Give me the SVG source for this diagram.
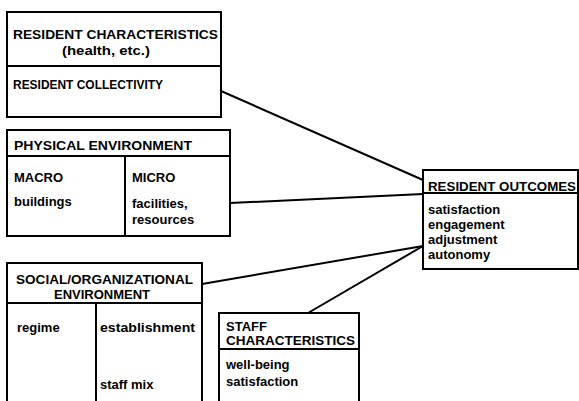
<svg xmlns="http://www.w3.org/2000/svg" width="579" height="401" viewBox="0 0 579 401">
<style>
.box{fill:none;stroke:#000;stroke-width:2}
.ln{fill:none;stroke:#000;stroke-width:2}
text{font-family:"Liberation Sans","DejaVu Sans",sans-serif;font-weight:bold;font-size:13px;fill:#000}
</style>
<rect width="579" height="401" fill="#fff"/>
<g id="connectors">
<line class="ln" x1="221" y1="91" x2="423" y2="180"/>
<line class="ln" x1="230" y1="203" x2="423" y2="194"/>
<line class="ln" x1="202" y1="284" x2="423" y2="246"/>
<line class="ln" x1="308" y1="313" x2="423" y2="246"/>
</g>
<g id="resident-characteristics">
<rect class="box" x="7" y="12" width="214" height="105"/>
<line class="ln" x1="7" y1="66" x2="221" y2="66"/>
<text x="13" y="39" textLength="205" lengthAdjust="spacingAndGlyphs">RESIDENT CHARACTERISTICS</text>
<text x="62" y="55" textLength="88" lengthAdjust="spacingAndGlyphs">(health, etc.)</text>
<text x="13" y="89" textLength="150" lengthAdjust="spacingAndGlyphs">RESIDENT COLLECTIVITY</text>
</g>
<g id="physical-environment">
<rect class="box" x="7" y="130" width="223" height="106"/>
<line class="ln" x1="7" y1="156" x2="230" y2="156"/>
<line class="ln" x1="125" y1="156" x2="125" y2="236"/>
<text x="14" y="150" textLength="178" lengthAdjust="spacingAndGlyphs">PHYSICAL ENVIRONMENT</text>
<text x="14" y="182">MACRO</text>
<text x="14" y="206">buildings</text>
<text x="132" y="182">MICRO</text>
<text x="132" y="208">facilities,</text>
<text x="132" y="224">resources</text>
</g>
<g id="social-organizational-environment">
<path class="box" d="M7,401 V263 H202 V401"/>
<line class="ln" x1="7" y1="303" x2="202" y2="303"/>
<line class="ln" x1="96" y1="303" x2="96" y2="401"/>
<text x="16" y="284" textLength="177" lengthAdjust="spacingAndGlyphs">SOCIAL/ORGANIZATIONAL</text>
<text x="102" y="299" text-anchor="middle">ENVIRONMENT</text>
<text x="17" y="332">regime</text>
<text x="100" y="332" textLength="95" lengthAdjust="spacingAndGlyphs">establishment</text>
<text x="100" y="389">staff mix</text>
</g>
<g id="staff-characteristics">
<path class="box" d="M219,401 V313 H359 V401"/>
<line class="ln" x1="219" y1="349" x2="359" y2="349"/>
<text x="226" y="331">STAFF</text>
<text x="226" y="345" textLength="129" lengthAdjust="spacingAndGlyphs">CHARACTERISTICS</text>
<text x="226" y="369">well-being</text>
<text x="226" y="386">satisfaction</text>
</g>
<g id="resident-outcomes">
<rect class="box" x="423" y="170" width="155" height="99"/>
<line class="ln" x1="423" y1="193" x2="578" y2="193"/>
<text x="428" y="191" textLength="148" lengthAdjust="spacingAndGlyphs">RESIDENT OUTCOMES</text>
<text x="428" y="214">satisfaction</text>
<text x="428" y="229">engagement</text>
<text x="428" y="244">adjustment</text>
<text x="428" y="259">autonomy</text>
</g>
</svg>
